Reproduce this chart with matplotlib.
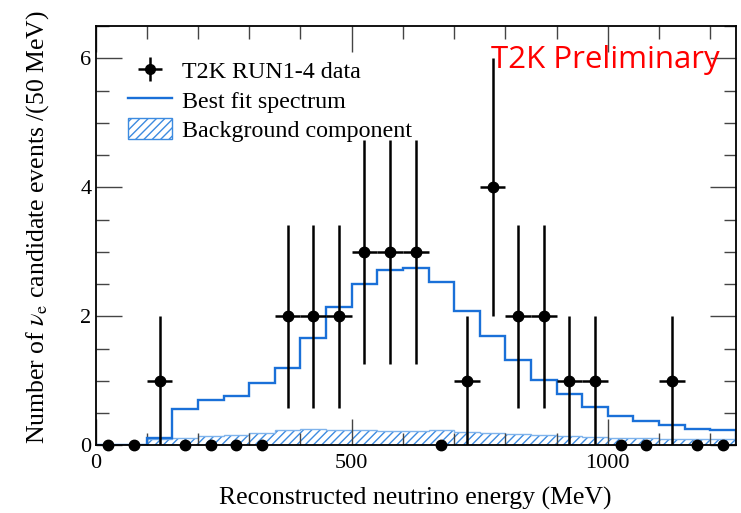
import numpy as np
import matplotlib
matplotlib.use("Agg")
import matplotlib.pyplot as plt
from matplotlib.lines import Line2D
from matplotlib.patches import Patch
from matplotlib.ticker import MultipleLocator

plt.rcParams['font.family'] = ['Liberation Serif', 'DejaVu Serif']
plt.rcParams['mathtext.fontset'] = 'stix'
plt.rcParams['hatch.linewidth'] = 1.0

# bin edges (MeV)
bin_edges = list(range(0, 1300, 50))
# observed data (events per 50 MeV bin)
data_counts = [0, 0, 1, 0, 0, 0, 0, 2, 2, 2, 3, 3, 3, 0, 1, 4, 2, 2, 1, 1, 0, 0, 1, 0, 0]
# best fit spectrum
best_fit = [0.0, 0.0, 0.11, 0.56, 0.70, 0.76, 0.96, 1.20, 1.66, 2.15, 2.50, 2.72, 2.75, 2.53,
            2.09, 1.70, 1.33, 1.01, 0.79, 0.60, 0.45, 0.37, 0.31, 0.26, 0.23]
# background component
background = [0.0, 0.0, 0.09, 0.12, 0.14, 0.16, 0.19, 0.23, 0.25, 0.24, 0.23, 0.22, 0.22, 0.23,
              0.20, 0.19, 0.17, 0.16, 0.145, 0.13, 0.12, 0.11, 0.10, 0.09, 0.09]

edges = np.array(bin_edges, dtype=float)
centers = 0.5 * (edges[:-1] + edges[1:])
halfw = 0.5 * np.diff(edges)
counts = np.array(data_counts, dtype=float)
yerr = np.sqrt(counts)

fig = plt.figure(figsize=(7.41, 5.13), dpi=100)
ax = fig.add_axes([0.129, 0.132, 0.864, 0.817])

fit_col = '#1a70d8'
bg_col = '#3d8be0'

ax.stairs(background, edges, fill=True, facecolor='none', edgecolor=bg_col,
          hatch='////', linewidth=0.0, zorder=1)
ax.stairs(background, edges, color='#7fb3ec', linewidth=1.0, zorder=1.5)
ax.stairs(best_fit, edges, color=fit_col, linewidth=1.7, zorder=2)

nz = counts > 0
ax.errorbar(centers[nz], counts[nz], xerr=halfw[nz], yerr=yerr[nz], fmt='o', color='black',
            ms=7.5, elinewidth=1.8, capsize=0, zorder=3)
ax.plot(centers[~nz], counts[~nz], 'o', color='black', ms=7.5, zorder=3, clip_on=False)

ax.set_xlim(0, 1250)
ax.set_ylim(0, 6.5)
ax.xaxis.set_major_locator(MultipleLocator(500))
ax.xaxis.set_minor_locator(MultipleLocator(100))
ax.yaxis.set_major_locator(MultipleLocator(2))
ax.yaxis.set_minor_locator(MultipleLocator(0.5))
ax.tick_params(which='both', direction='in', top=True, right=True, labelsize=16, width=1.0,
               color='#444444')
ax.tick_params(which='major', length=19)
ax.tick_params(which='minor', length=9)
ax.tick_params(axis='x', pad=6)
ax.tick_params(axis='y', pad=3)
for s in ax.spines.values():
    s.set_linewidth(1.3)

ax.set_xlabel('Reconstructed neutrino energy (MeV)', fontsize=18.5)
ax.xaxis.set_label_coords(0.5, -0.1)
ax.set_ylabel(r'Number of $\nu_{\rm e}$ candidate events /(50 MeV)', fontsize=18.5)
ax.yaxis.set_label_coords(-0.07, 0.52)

h_data = ax.errorbar([], [], xerr=[], yerr=[], fmt='o', color='black', ms=7, elinewidth=1.8)
h_fit = Line2D([], [], color=fit_col, linewidth=1.7)
h_bg = Patch(facecolor='none', edgecolor=bg_col, hatch='////', linewidth=1.0)
ax.legend([h_data, h_fit, h_bg], ['T2K RUN1-4 data', 'Best fit spectrum', 'Background component'],
          loc='upper left', bbox_to_anchor=(0.05, 0.921), frameon=False, fontsize=17.3,
          handlelength=1.85, handleheight=1.0, labelspacing=0.22, handletextpad=0.42,
          borderpad=0, borderaxespad=0)

ax.text(0.975, 0.955, 'T2K Preliminary', transform=ax.transAxes, ha='right', va='top',
        color='#ff0000', fontsize=22.5, family=['Open Sans', 'DejaVu Sans'])

fig.savefig('out.png', dpi=100)
